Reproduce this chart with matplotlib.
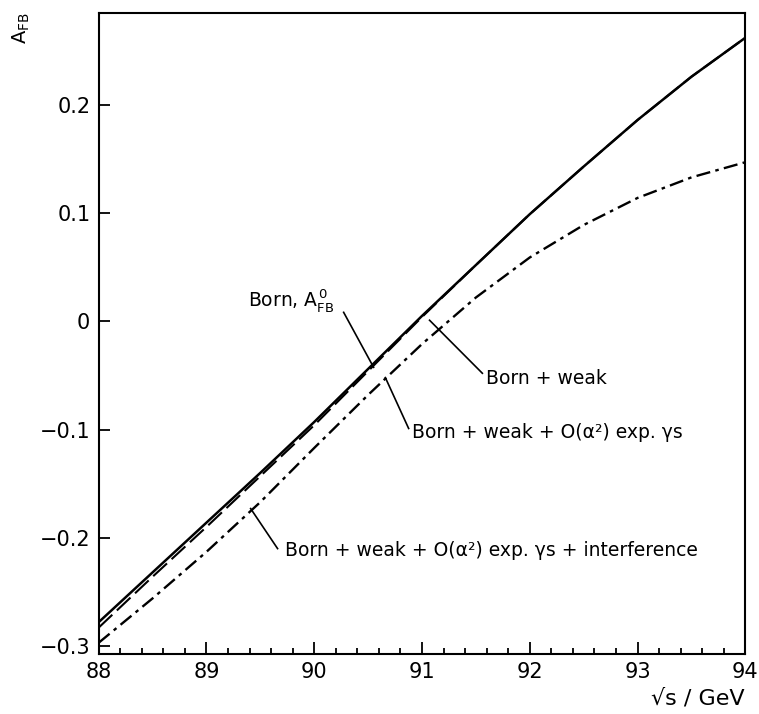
import matplotlib.pyplot as plt
from matplotlib.ticker import MultipleLocator

plt.rcParams["mathtext.default"] = "regular"
plt.rcParams["font.family"] = ["DejaVu Sans"]

# centre-of-mass energy grid (GeV)
sqrt_s = [88.0, 88.5, 89.0, 89.5, 90.0, 90.5, 91.0, 91.5, 92.0, 92.5, 93.0, 93.5, 94.0]

# forward-backward asymmetry for the different levels of correction
afb_born = [-0.278, -0.232, -0.186, -0.140, -0.093, -0.044, 0.005, 0.052, 0.099, 0.143, 0.186, 0.226, 0.262]
afb_weak = [-0.283, -0.236, -0.190, -0.143, -0.096, -0.046, 0.004, 0.052, 0.099, 0.143, 0.186, 0.226, 0.262]
afb_qed = [-0.297, -0.256, -0.213, -0.167, -0.117, -0.068, -0.021, 0.022, 0.059, 0.089, 0.114, 0.133, 0.147]
afb_int = [-0.297, -0.256, -0.213, -0.167, -0.117, -0.068, -0.021, 0.022, 0.059, 0.089, 0.114, 0.133, 0.147]

fig = plt.figure(figsize=(7.59, 7.14), dpi=100)
ax = fig.add_axes([0.130, 0.084, 0.852, 0.898])

ax.plot(sqrt_s, afb_born, color="black", lw=1.8, ls="-")
ax.plot(sqrt_s, afb_weak, color="black", lw=1.5, ls=(0, (9, 3)))
# the two lower curves overlap: dashes plus dots in the gaps give a dash-dot look
ax.plot(sqrt_s, afb_qed, color="black", lw=1.7, ls=(0, (6, 6)))
ax.plot(sqrt_s, afb_int, color="black", lw=1.7, ls=(3.75, (1.5, 10.5)))

ax.set_xlim(88, 94)
ax.set_ylim(-0.3074, 0.285)
ax.xaxis.set_major_locator(MultipleLocator(1))
ax.xaxis.set_minor_locator(MultipleLocator(0.2))
ax.set_yticks([-0.3, -0.2, -0.1, 0, 0.1, 0.2])
ax.set_yticklabels(["\u22120.3", "\u22120.2", "\u22120.1", "0", "0.1", "0.2"])

ax.tick_params(axis="both", which="both", direction="in", top=False, right=False,
               labelsize=15, width=1.3)
ax.tick_params(axis="x", which="major", length=9, pad=6)
ax.tick_params(axis="x", which="minor", length=4.5)
ax.tick_params(axis="y", which="major", length=8, pad=6)
for sp in ax.spines.values():
    sp.set_linewidth(1.5)

# curve labels with pointer lines
txt = dict(fontsize=13.5, color="black")
ax.text(89.39, 0.019, "Born, $A_{FB}^{\\,0}$", ha="left", va="center", **txt)
ax.plot([90.273, 90.551], [0.0083, -0.0425], color="black", lw=1.2)

ax.text(91.59, -0.053, "Born + weak", ha="left", va="center", **txt)
ax.plot([91.56, 91.07], [-0.048, 0.001], color="black", lw=1.2)

ax.text(90.91, -0.103, "Born + weak + O(\u03b1\u00b2) exp. \u03b3s", ha="left", va="center", **txt)
ax.plot([90.876, 90.66], [-0.099, -0.052], color="black", lw=1.2)

ax.text(89.73, -0.212, "Born + weak + O(\u03b1\u00b2) exp. \u03b3s + interference",
        ha="left", va="center", **txt)
ax.plot([89.66, 89.41], [-0.21, -0.173], color="black", lw=1.2)

# axis titles placed in the corners
fig.text(21 / 759, 1 - 28 / 714, "$A_{FB}$", rotation=90, ha="center", va="center", fontsize=14)
fig.text(745 / 759, 1 - 698 / 714, "\u221as / GeV", ha="right", va="center", fontsize=16)

fig.savefig("out.png", dpi=100)
